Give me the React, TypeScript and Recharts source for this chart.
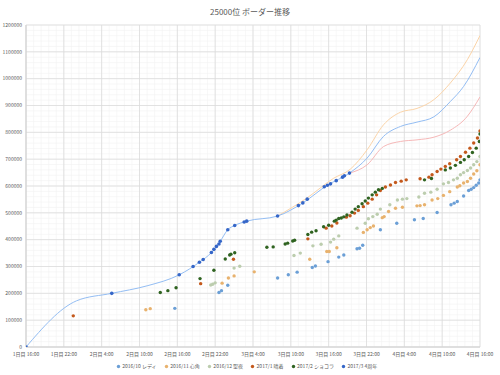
import React from "react";
import { ComposedChart, Line, Scatter, XAxis, YAxis, CartesianGrid, Legend } from "recharts";

const TITLE = "25000位 ボーダー推移";
const FONT = "'Noto Sans CJK JP', 'Noto Sans', sans-serif";

// x = hours since 1日目 16:00
const X_TICKS = [0, 6, 12, 18, 24, 30, 36, 42, 48, 54, 60, 66, 72];
const X_LABELS = [
  "1日目 16:00", "1日目 22:00", "2日目 4:00", "2日目 10:00", "2日目 16:00", "2日目 22:00",
  "3日目 4:00", "3日目 10:00", "3日目 16:00", "3日目 22:00", "4日目 4:00", "4日目 10:00", "4日目 16:00",
];
const Y_TICKS = [0, 100000, 200000, 300000, 400000, 500000, 600000, 700000, 800000, 900000, 1000000, 1100000, 1200000];

const SERIES_NAMES = ["2016/10 レディ", "2016/11 心角", "2016/12 聖夜", "2017/1 晴着", "2017/2 ショコラ", "2017/3 4周年"];
const SERIES_COLORS = ["#6b9fd6", "#e8b26e", "#bccdae", "#c4591c", "#2f6320", "#3566c8"];

const lady: [number, number][] = [
  [23.6, 144000], [30.6, 203000], [31.0, 210000], [32.0, 230000], [39.9, 257000], [41.6, 269000],
  [43.0, 279000], [45.4, 296000], [45.9, 302000], [47.9, 318000], [49.6, 335000], [50.4, 343000],
  [52.5, 366000], [52.9, 368000], [53.4, 379000], [56.2, 437000], [58.8, 461000], [61.6, 474000],
  [63.0, 479000], [65.2, 501000], [67.4, 530000], [67.9, 536000], [68.4, 542000], [69.4, 563000],
  [70.2, 583000], [70.6, 588000], [71.0, 594000], [71.4, 603000], [71.8, 611000], [72, 623000],
];
const kokoro: [number, number][] = [
  [19.0, 139000], [19.7, 143000], [31.1, 238000], [32.1, 257000], [33.0, 265000], [36.2, 280000],
  [45.0, 327000], [47.7, 356000], [48.1, 356000], [49.3, 370000], [53.5, 427000], [54.1, 437000],
  [54.6, 445000], [55.1, 451000], [56.5, 482000], [56.8, 486000], [57.5, 505000], [58.6, 517000],
  [59.7, 521000], [62.0, 526000], [62.5, 527000], [63.2, 530000], [64.4, 548000], [65.3, 553000],
  [66.2, 565000], [67.2, 579000], [68.4, 596000], [68.8, 601000], [69.4, 611000], [70.0, 617000],
  [70.5, 629000], [71.0, 645000], [71.5, 657000], [72, 679000],
];
const seiya: [number, number][] = [
  [29.3, 231000], [29.6, 234000], [30.0, 239000], [33.0, 294000], [33.9, 301000], [42.5, 341000],
  [43.5, 350000], [45.5, 377000], [46.8, 383000], [48.3, 391000], [48.8, 402000], [49.6, 414000],
  [52.5, 443000], [53.8, 461000], [54.3, 478000], [55.0, 486000], [55.7, 495000], [56.2, 514000],
  [57.7, 530000], [58.9, 548000], [59.7, 551000], [60.4, 553000], [62.3, 559000], [63.2, 573000],
  [64.2, 577000], [65.2, 588000], [66.2, 608000], [67.0, 613000], [67.8, 623000], [68.4, 629000],
  [68.9, 642000], [69.4, 650000], [70.0, 658000], [70.5, 667000], [71.0, 679000], [71.5, 691000],
  [72, 710000],
];
const haregi: [number, number][] = [
  [7.5, 116000], [27.7, 236000], [32.9, 327000], [44.7, 403000], [47.6, 443000], [48.5, 451000],
  [49.3, 462000], [50.8, 484000], [51.4, 489000], [52.1, 499000], [52.7, 509000], [53.5, 523000],
  [54.2, 536000], [54.9, 551000], [55.6, 567000], [56.2, 583000], [57.0, 596000], [57.8, 604000],
  [58.6, 613000], [59.5, 618000], [60.3, 623000], [62.5, 627000], [63.9, 633000], [64.4, 642000],
  [65.2, 654000], [65.8, 663000], [66.5, 673000], [67.2, 683000], [68.3, 698000], [68.9, 710000],
  [69.7, 726000], [70.4, 741000], [71.0, 760000], [71.6, 779000], [72, 805000],
];
const chocola: [number, number][] = [
  [21.3, 203000], [22.5, 210000], [23.8, 221000], [27.6, 255000], [29.8, 286000], [31.6, 328000],
  [32.3, 343000], [32.5, 346000], [33.1, 351000], [38.2, 372000], [39.2, 373000], [41.1, 384000],
  [41.5, 387000], [42.3, 395000], [42.6, 398000], [44.7, 419000], [45.3, 428000], [46.0, 433000],
  [47.2, 448000], [48.0, 454000], [48.9, 469000], [49.2, 473000], [49.6, 479000], [50.0, 481000],
  [50.4, 485000], [50.9, 492000], [51.7, 502000], [52.2, 514000], [52.7, 523000], [53.3, 534000],
  [53.8, 544000], [54.3, 555000], [54.9, 567000], [55.4, 577000], [55.9, 586000], [56.5, 591000],
  [63.2, 623000], [64.3, 628000], [66.5, 660000], [67.3, 667000], [68.1, 677000], [68.9, 688000],
  [69.5, 698000], [70.2, 710000], [70.8, 725000], [71.4, 741000], [71.9, 766000], [72, 794000],
];
const anniv4: [number, number][] = [
  [0, 0], [13.6, 200000], [24.3, 269000], [26.5, 300000], [27.5, 316000], [28.1, 326000],
  [29.4, 352000], [29.8, 364000], [30.2, 375000], [30.6, 384000], [30.8, 394000], [32.0, 437000],
  [33.1, 453000], [34.6, 466000], [35.0, 469000], [39.9, 488000], [43.2, 527000], [43.9, 537000],
  [44.6, 551000], [47.3, 597000], [47.8, 603000], [48.3, 608000], [49.2, 620000], [50.2, 633000],
  [50.5, 638000], [51.3, 648000],
];

// smooth trend / forecast lines
const trendBlue: [number, number][] = [
  [0, 0], [8, 172000], [13.6, 200000], [19.2, 228000], [24.3, 269000], [27.5, 316000],
  [29.4, 352000], [30.8, 394000], [32.0, 437000], [33.1, 453000], [35.0, 469000], [39.9, 488000],
  [43.9, 537000], [47.8, 603000], [51.3, 648000], [54.1, 704000], [56.7, 785000], [59.4, 822000],
  [62.0, 838000], [64.7, 858000], [67.3, 915000], [69.4, 971000], [72, 1079000],
];
const trendHigh: [number, number][] = [
  [39.9, 488000], [44.6, 556000], [48.8, 629000], [51.4, 662000], [54.1, 735000], [56.7, 828000],
  [59.4, 875000], [62.0, 889000], [64.7, 922000], [67.3, 984000], [70.0, 1071000], [72, 1161000],
];
const trendLow: [number, number][] = [
  [51.3, 648000], [54.1, 679000], [56.7, 747000], [59.4, 766000], [62.0, 772000], [64.7, 782000],
  [67.3, 808000], [70.0, 860000], [72, 932000],
];

const SCATTERS = [lady, kokoro, seiya, haregi, chocola, anniv4];
const toRows = (pts: [number, number][]) => pts.map(([h, v]) => ({ h, v }));

const minorX = Array.from({ length: 61 }, (_, i) => i * 1.2);
const minorY = Array.from({ length: 61 }, (_, i) => i * 20000);

const dot = (color: string, r: number) => (p: any) =>
  p.cx == null ? <g /> : <circle cx={p.cx} cy={p.cy} r={r} fill={color} />;

const renderLegend = () => (
  <div
    style={{
      display: "flex",
      justifyContent: "center",
      gap: 7,
      fontFamily: FONT,
      fontSize: 5,
      color: "#595959",
      paddingLeft: 9,
      lineHeight: "14px",
    }}
  >
    {SERIES_NAMES.map((name, i) => (
      <span key={name} style={{ display: "inline-flex", alignItems: "center" }}>
        <svg width={5} height={5} style={{ marginRight: 1.5 }}>
          <circle cx={2.5} cy={2.5} r={1.7} fill={SERIES_COLORS[i]} />
        </svg>
        {name}
      </span>
    ))}
  </div>
);

export default function App() {
  return (
    <div style={{ position: "absolute", left: 0, top: 0, width: 500, height: 375, background: "#fff" }}>
      <div
        style={{
          position: "absolute",
          top: 6,
          left: 0,
          width: 500,
          textAlign: "center",
          fontFamily: FONT,
          fontSize: 8,
          color: "#595959",
        }}
      >
        {TITLE}
      </div>
      <ComposedChart width={500} height={375} margin={{ top: 25, right: 20, bottom: 2, left: 4 }}>
        <CartesianGrid
          stroke="#f1f1f1"
          strokeWidth={0.6}
          horizontalCoordinatesGenerator={({ offset }: any) =>
            minorY.map((v) => offset.top + offset.height * (1 - v / 1200000))
          }
          verticalCoordinatesGenerator={({ offset }: any) =>
            minorX.map((h) => offset.left + (offset.width * h) / 72)
          }
        />
        <CartesianGrid stroke="#dcdcdc" strokeWidth={0.8} />
        <XAxis
          type="number"
          dataKey="h"
          domain={[0, 72]}
          ticks={X_TICKS}
          tickFormatter={(v: number) => X_LABELS[X_TICKS.indexOf(v)] ?? ""}
          interval={0}
          height={12}
          tickLine={false}
          tickSize={0}
          tickMargin={5}
          axisLine={{ stroke: "#d0d0d0" }}
          tick={{ fontSize: 5, fill: "#595959", fontFamily: FONT }}
          allowDataOverflow
        />
        <YAxis
          type="number"
          dataKey="v"
          domain={[0, 1200000]}
          ticks={Y_TICKS}
          interval={0}
          width={22}
          tickLine={false}
          tickSize={0}
          tickMargin={4}
          axisLine={{ stroke: "#d0d0d0" }}
          tick={{ fontSize: 5, fill: "#595959", fontFamily: FONT }}
          allowDataOverflow
        />
        <Legend verticalAlign="bottom" height={14} content={renderLegend} />
        <Line
          data={toRows(trendHigh)}
          dataKey="v"
          type="monotone"
          stroke="#fbd4a8"
          strokeWidth={1}
          dot={false}
          legendType="none"
          isAnimationActive={false}
        />
        <Line
          data={toRows(trendLow)}
          dataKey="v"
          type="monotone"
          stroke="#f6b8b8"
          strokeWidth={1}
          dot={false}
          legendType="none"
          isAnimationActive={false}
        />
        <Line
          data={toRows(trendBlue)}
          dataKey="v"
          type="monotone"
          stroke="#93bdf3"
          strokeWidth={1}
          dot={false}
          legendType="none"
          isAnimationActive={false}
        />
        {SCATTERS.map((pts, i) => (
          <Scatter
            key={SERIES_NAMES[i]}
            name={SERIES_NAMES[i]}
            data={toRows(pts)}
            fill={SERIES_COLORS[i]}
            shape={dot(SERIES_COLORS[i], i === 5 ? 1.8 : 1.7)}
            isAnimationActive={false}
          />
        ))}
      </ComposedChart>
    </div>
  );
}
